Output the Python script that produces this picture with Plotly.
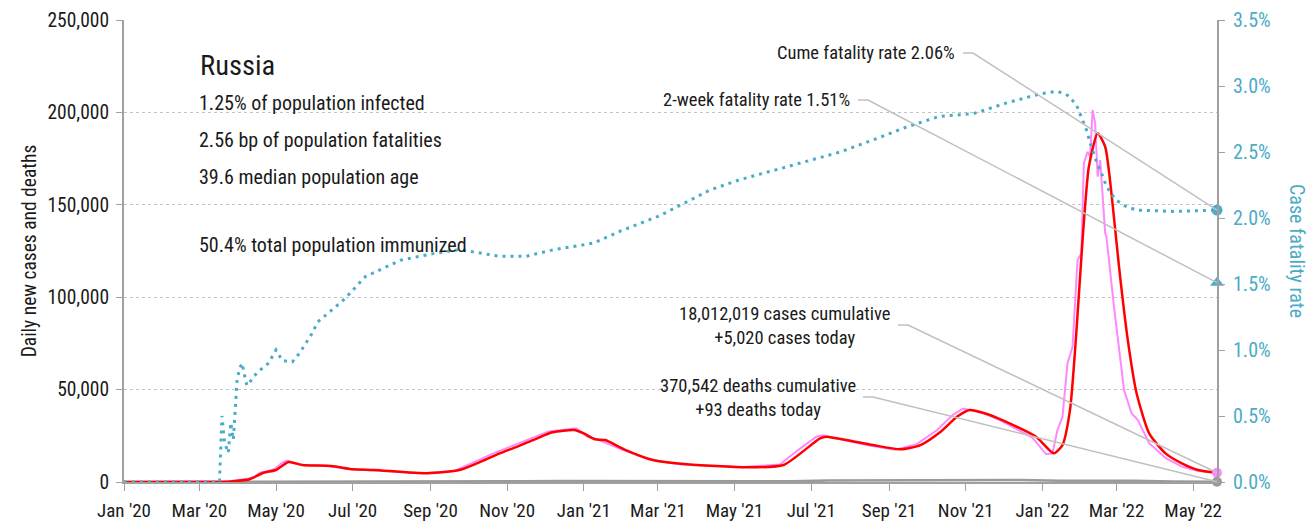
import pandas as pd
import plotly.graph_objects as go

# ---- data -------------------------------------------------------------
# 7-day average of daily new cases
avg_dates = ["2020-01-01", "2020-03-15", "2020-03-26", "2020-04-10", "2020-04-21",
             "2020-05-01", "2020-05-11", "2020-05-22", "2020-06-14", "2020-07-01",
             "2020-07-18", "2020-08-30", "2020-09-24", "2020-10-11", "2020-10-26",
             "2020-11-09", "2020-11-23", "2020-12-07", "2020-12-24", "2021-01-01",
             "2021-01-10", "2021-01-18", "2021-02-02", "2021-02-25", "2021-03-22",
             "2021-05-11", "2021-06-09", "2021-07-08", "2021-07-13", "2021-07-29",
             "2021-08-19", "2021-09-10", "2021-09-26", "2021-10-12", "2021-10-25",
             "2021-11-04", "2021-11-18", "2021-12-01", "2021-12-27", "2022-01-10",
             "2022-01-17", "2022-01-23", "2022-01-28", "2022-02-02", "2022-02-07",
             "2022-02-14", "2022-02-20", "2022-02-25", "2022-03-03", "2022-03-10",
             "2022-03-17", "2022-03-27", "2022-04-09", "2022-04-22", "2022-05-05",
             "2022-05-20"]
avg_cases = [0, 0, 300, 1500, 5000,
             6500, 10800, 9200, 8700, 6900,
             6500, 4700, 6500, 11000, 15500,
             19100, 23100, 26900, 28100, 26300,
             23100, 22700, 17700, 11900, 9700,
             7950, 9200, 23600, 24500, 22700,
             20000, 17700, 20000, 27200, 35300,
             39000, 36800, 33200, 24500, 15500,
             20000, 39000, 80600, 131000, 170600,
             188700, 181400, 156200, 116500, 76800,
             48000, 26300, 15500, 10100, 6500,
             5000]

# daily reported new cases
daily_dates = ["2020-01-01", "2020-03-15", "2020-03-25", "2020-04-08", "2020-04-14",
               "2020-04-18", "2020-04-24", "2020-04-30", "2020-05-06", "2020-05-10",
               "2020-05-16", "2020-05-24", "2020-06-10", "2020-06-28", "2020-07-20",
               "2020-08-25", "2020-09-20", "2020-10-08", "2020-10-22", "2020-11-06",
               "2020-11-20", "2020-12-04", "2020-12-20", "2020-12-26", "2021-01-04",
               "2021-01-12", "2021-01-30", "2021-02-22", "2021-03-20", "2021-05-08",
               "2021-06-06", "2021-06-20", "2021-07-05", "2021-07-10", "2021-07-26",
               "2021-08-16", "2021-09-06", "2021-09-23", "2021-10-09", "2021-10-22",
               "2021-10-30", "2021-11-15", "2021-11-28", "2021-12-24", "2022-01-04",
               "2022-01-09", "2022-01-13", "2022-01-17", "2022-01-21", "2022-01-25",
               "2022-01-29", "2022-02-01", "2022-02-03", "2022-02-06", "2022-02-08",
               "2022-02-10", "2022-02-12", "2022-02-14", "2022-02-16", "2022-02-20",
               "2022-02-21", "2022-02-27", "2022-03-07", "2022-03-13", "2022-03-18",
               "2022-03-27", "2022-04-09", "2022-04-22", "2022-05-05", "2022-05-20"]
daily_cases = [0, 0, 400, 1700, 2800,
               5000, 5800, 7100, 10500, 11600,
               10000, 9000, 8800, 7000, 6300,
               4800, 6000, 11500, 15800, 19800,
               23500, 27400, 28500, 29000, 24500,
               23000, 18000, 12200, 9500, 8100,
               9500, 17000, 24500, 25300, 22900,
               19800, 17400, 20500, 28000, 36500,
               39800, 37200, 33500, 24000, 15000,
               15500, 28100, 35300, 64200, 73200,
               120100, 123700, 172400, 178700, 176000,
               201300, 194100, 165200, 174200, 134600,
               132700, 94900, 49800, 37200, 33500,
               21000, 13000, 8300, 6000, 5020]

# 7-day average of daily deaths
death_dates = ["2020-01-01", "2020-03-25", "2020-04-15", "2020-05-15", "2020-06-15",
               "2020-07-15", "2020-08-15", "2020-09-15", "2020-10-15", "2020-11-15",
               "2020-12-15", "2021-01-15", "2021-02-15", "2021-03-15", "2021-04-15",
               "2021-05-15", "2021-06-15", "2021-07-15", "2021-08-15", "2021-09-15",
               "2021-10-15", "2021-11-15", "2021-12-15", "2022-01-15", "2022-02-15",
               "2022-03-15", "2022-04-15", "2022-05-20"]
avg_deaths = [0, 1, 20, 120, 150,
              140, 100, 100, 230, 380,
              560, 520, 420, 380, 370,
              370, 420, 760, 790, 790,
              990, 1220, 1050, 720, 720,
              620, 250, 93]

# cumulative case fatality rate, %
cfr_dates = ["2020-01-01", "2020-03-17", "2020-03-19", "2020-03-21", "2020-03-24",
             "2020-03-26", "2020-03-28", "2020-03-31", "2020-04-02", "2020-04-04",
             "2020-04-07", "2020-04-08", "2020-04-16", "2020-04-25", "2020-05-01",
             "2020-05-06", "2020-05-14", "2020-05-20", "2020-05-30", "2020-06-03",
             "2020-06-25", "2020-07-11", "2020-08-08", "2020-09-03", "2020-09-24",
             "2020-10-13", "2020-10-26", "2020-11-16", "2020-12-08", "2021-01-09",
             "2021-01-30", "2021-02-15", "2021-03-03", "2021-04-11", "2021-05-05",
             "2021-06-01", "2021-06-27", "2021-07-24", "2021-08-19", "2021-09-15",
             "2021-10-11", "2021-11-07", "2021-12-03", "2021-12-30", "2022-01-13",
             "2022-01-21", "2022-01-28", "2022-02-01", "2022-02-05", "2022-02-09",
             "2022-02-13", "2022-02-17", "2022-02-21", "2022-02-28", "2022-03-08",
             "2022-03-17", "2022-04-15", "2022-05-20"]
cfr_pct = [0, 0, 0.50, 0.30, 0.22,
           0.45, 0.32, 0.77, 0.86, 0.90,
           0.76, 0.73, 0.83, 0.90, 1.00,
           0.92, 0.91, 0.98, 1.13, 1.21,
           1.39, 1.555, 1.68, 1.73, 1.76,
           1.73, 1.71, 1.71, 1.76, 1.81,
           1.90, 1.96, 2.02, 2.21, 2.29,
           2.36, 2.43, 2.50, 2.59, 2.69,
           2.77, 2.79, 2.87, 2.94, 2.96,
           2.93, 2.86, 2.77, 2.67, 2.54,
           2.43, 2.34, 2.24, 2.14, 2.09,
           2.06, 2.05, 2.06]

country = "Russia"
stats_lines = ["1.25% of population infected",
               "2.56 bp of population fatalities",
               "39.6 median population age"]
immunized = "50.4% total population immunized"

cume_cfr = 2.06
two_week_cfr = 1.51
cases_cumulative = 18012019
cases_today = 5020
deaths_cumulative = 370542
deaths_today = 93

# ---- styling ------------------------------------------------------------
FONT = ("Roboto Condensed, Noto Sans Condensed, Liberation Sans Narrow, "
        "DejaVu Sans Condensed, Arial Narrow, Liberation Sans, sans-serif")
TEAL = "#4bacc6"
PINK = "#ff88ff"
RED = "#ff0000"
AXIS_GREY = "#a0a0a0"
LEADER_GREY = "#c0c0c0"
TEXT = "#1a1a1a"

W, H = 1314, 523
PLOT_L, PLOT_R, PLOT_T, PLOT_B = 124, 1217, 20, 482
X_START = pd.Timestamp("2020-01-01")
X_END = pd.Timestamp(avg_dates[-1])
Y_MAX = 250000
Y2_MAX = 3.5


def px_x(px):
    return (px - PLOT_L) / (PLOT_R - PLOT_L)


def px_y(py):
    return (PLOT_B - py) / (PLOT_B - PLOT_T)


def date_frac(d):
    d = pd.Timestamp(d)
    return (d - X_START) / (X_END - X_START)


fig = go.Figure()

fig.add_trace(go.Scatter(x=death_dates, y=avg_deaths, mode="lines",
                         line=dict(color="#9a9a9a", width=2.5), hoverinfo="skip"))
fig.add_trace(go.Scatter(x=daily_dates, y=daily_cases, mode="lines",
                         line=dict(color=PINK, width=2), hoverinfo="skip"))
fig.add_trace(go.Scatter(x=avg_dates, y=avg_cases, mode="lines",
                         line=dict(color=RED, width=2.5, shape="spline", smoothing=0.6),
                         hoverinfo="skip"))
fig.add_trace(go.Scatter(x=cfr_dates, y=cfr_pct, mode="lines", yaxis="y2",
                         line=dict(color=TEAL, width=3, dash="3px,5px"),
                         hoverinfo="skip"))

# end-of-series markers
last = avg_dates[-1]
fig.add_trace(go.Scatter(x=[last], y=[cases_today], mode="markers", cliponaxis=False,
                         marker=dict(color=PINK, size=10, symbol="circle")))
fig.add_trace(go.Scatter(x=[last], y=[deaths_today], mode="markers", cliponaxis=False,
                         marker=dict(color="#9a9a9a", size=10, symbol="circle")))
fig.add_trace(go.Scatter(x=[last], y=[cume_cfr], mode="markers", yaxis="y2",
                         cliponaxis=False,
                         marker=dict(color=TEAL, size=11, symbol="circle")))
fig.add_trace(go.Scatter(x=[last], y=[two_week_cfr], mode="markers", yaxis="y2",
                         cliponaxis=False,
                         marker=dict(color=TEAL, size=12, symbol="triangle-up")))

annotations = []
shapes = []


def text(x_px, y_px, s, size, anchor="left", align="left", color=TEXT):
    annotations.append(dict(xref="paper", yref="paper", x=px_x(x_px), y=px_y(y_px),
                            text=s, showarrow=False, xanchor=anchor, yanchor="middle",
                            align=align, font=dict(family=FONT, size=size, color=color)))


text(198, 66, country, 28.5)
for i, s in enumerate(stats_lines):
    text(197, 103 + i * 37, s, 20)
text(197, 245, immunized, 20)

text(957, 53, f"Cume fatality rate {cume_cfr:.2f}%", 18.5, anchor="right")
text(852, 100, f"2-week fatality rate {two_week_cfr:.2f}%", 18.5, anchor="right")
text(784, 326, f"{cases_cumulative:,} cases cumulative<br>+{cases_today:,} cases today",
     18.5, anchor="center", align="center")
text(758, 398, f"{deaths_cumulative:,} deaths cumulative<br>+{deaths_today:,} deaths today",
     18.5, anchor="center", align="center")

# right axis title reads top-to-bottom
annotations.append(dict(xref="paper", yref="paper", x=px_x(1297), y=px_y(251),
                        xanchor="center", yanchor="middle",
                        text="Case fatality rate", showarrow=False, textangle=90,
                        font=dict(family=FONT, size=20, color=TEAL)))


def leader(x0_px, y_px, x_end, y_end):
    stub = px_x(x0_px + 10)
    shapes.append(dict(type="path", xref="paper", yref="paper",
                       path=f"M {px_x(x0_px)} {px_y(y_px)} L {stub} {px_y(y_px)} "
                            f"L {x_end} {y_end}",
                       line=dict(color=LEADER_GREY, width=1.5)))


end_x = date_frac(last)
leader(963, 53, end_x, cume_cfr / Y2_MAX)
leader(858, 100, end_x, two_week_cfr / Y2_MAX)
leader(898, 325, end_x, cases_today / Y_MAX)
leader(863, 397, end_x, deaths_today / Y_MAX)

fig.update_layout(
    width=W, height=H,
    margin=dict(l=PLOT_L, r=W - PLOT_R, t=PLOT_T, b=H - PLOT_B, autoexpand=False),
    paper_bgcolor="white", plot_bgcolor="white",
    showlegend=False,
    font=dict(family=FONT, size=18, color=TEXT),
    annotations=annotations, shapes=shapes,
    xaxis=dict(type="date", range=[X_START, X_END], tick0="2020-01-01", dtick="M2",
               tickformat="%b '%y", showgrid=False, zeroline=False, automargin=False,
               showline=True, linecolor=AXIS_GREY, linewidth=2,
               ticks="outside", ticklen=7, tickcolor=AXIS_GREY, tickwidth=1,
               ticklabelstandoff=3,
               tickfont=dict(family=FONT, size=19, color=TEXT)),
    yaxis=dict(range=[0, Y_MAX], dtick=50000, tickformat=",d", automargin=False,
               showgrid=True, gridcolor="#c4c4c4", griddash="dot", gridwidth=1,
               zeroline=False, showline=True, linecolor=AXIS_GREY, linewidth=2,
               ticks="outside", ticklen=6, tickcolor=AXIS_GREY,
               ticklabelstandoff=3,
               tickfont=dict(family=FONT, size=19.5, color=TEXT),
               title=dict(text="Daily new cases and deaths",
                          font=dict(family=FONT, size=19.5, color=TEXT), standoff=6)),
    yaxis2=dict(overlaying="y", side="right", range=[0, Y2_MAX], dtick=0.5,
                tickformat=".1f", ticksuffix="%", showgrid=False, zeroline=False,
                automargin=False,
                showline=True, linecolor=AXIS_GREY, linewidth=2,
                ticks="outside", ticklen=6, tickcolor=AXIS_GREY,
                ticklabelstandoff=4,
                tickfont=dict(family=FONT, size=20, color=TEAL)),
)

fig.write_html("out.html")
